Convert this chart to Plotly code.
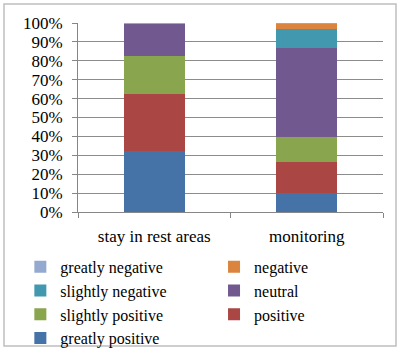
import plotly.graph_objects as go

categories = ["stay in rest areas", "monitoring"]
series_names = ["greatly positive", "positive", "slightly positive", "neutral",
                "slightly negative", "negative", "greatly negative"]
greatly_positive = [32.5, 9.9]
positive = [30.0, 16.6]
slightly_positive = [20.3, 13.0]
neutral = [16.7, 47.3]
slightly_negative = [0.0, 9.9]
negative = [0.0, 3.0]
greatly_negative = [0.5, 0.3]
values = [greatly_positive, positive, slightly_positive, neutral,
          slightly_negative, negative, greatly_negative]
colors = ["#4572A7", "#AA4643", "#89A54E", "#71588F", "#4198AF", "#DB843D", "#93A9CF"]
legend_ids = ["legend", "legend2", "legend", "legend2", "legend", "legend2", "legend"]
legend_ranks = [4, 3, 3, 2, 2, 1, 1]

totals = [sum(v[i] for v in values) for i in range(len(categories))]
fig = go.Figure()
for name, vals, col, lg, rk in zip(series_names, values, colors, legend_ids, legend_ranks):
    fig.add_trace(go.Bar(
        x=categories, y=[v / t for v, t in zip(vals, totals)], name=name,
        marker=dict(color=col, line=dict(width=0)), legend=lg, legendrank=rk,
    ))

font = dict(family="Liberation Serif, Times New Roman, serif", size=17, color="black")
leg_font = dict(family="Liberation Serif, Times New Roman, serif", size=16, color="black")
leg_common = dict(orientation="v", yanchor="top", xanchor="left", traceorder="normal",
                  font=leg_font, itemwidth=30, bgcolor="rgba(0,0,0,0)")
fig.update_layout(
    barmode="stack", bargap=0.6,
    width=402, height=353,
    margin=dict(l=78, r=19, t=23, b=141, autoexpand=False),
    paper_bgcolor="white", plot_bgcolor="white",
    font=font,
    showlegend=True,
    legend=dict(x=-0.189, y=-0.2, **leg_common),
    legend2=dict(x=0.446, y=-0.2, **leg_common),
    xaxis=dict(showline=True, linecolor="#868686", linewidth=1, ticks="outside",
               tickson="boundaries", ticklen=5, tickcolor="#868686",
               tickfont=font, showgrid=False, ticklabelstandoff=9),
    yaxis=dict(range=[0, 1], dtick=0.1, tickformat=".0%", showline=True,
               linecolor="#868686", linewidth=1, ticks="outside", ticklen=5,
               tickcolor="#868686", showgrid=True, gridcolor="#8C8C8C",
               gridwidth=1, tickfont=font, zeroline=False, ticklabelstandoff=6),
    shapes=[dict(type="rect", xref="paper", yref="paper",
                 x0=-0.2426, x1=1.0426, y0=-0.709, y1=1.1005,
                 line=dict(color="#BFBFBF", width=1.5), layer="below")],
)
fig.write_html("out.html", config={"displayModeBar": False},
               post_script="document.body.style.margin='0';document.body.style.padding='0';")
